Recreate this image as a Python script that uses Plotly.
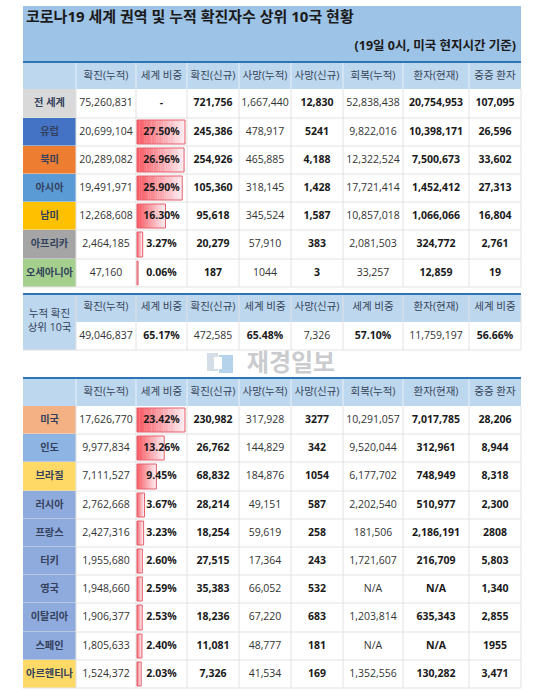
# Corona19 regional / top 10 status table drawn on a pixel-sized cartesian axis
import plotly.graph_objects as go

W, H = 548, 698

# --- data ---
TITLE = "코로나19 세계 권역 및 누적 확진자수 상위 10국 현황"
SUBTITLE = "(19일 0시, 미국 현지시간 기준)"
headers = ["확진(누적)", "세계 비중", "확진(신규)", "사망(누적)", "사망(신규)", "회복(누적)", "환자(현재)", "중증 환자"]

regions = ["전 세계", "유럽", "북미", "아시아", "남미", "아프리카", "오세아니아"]
reg_cases = ["75,260,831", "20,699,104", "20,289,082", "19,491,971", "12,268,608", "2,464,185", "47,160"]
reg_share = [None, 27.50, 26.96, 25.90, 16.30, 3.27, 0.06]
reg_new = ["721,756", "245,386", "254,926", "105,360", "95,618", "20,279", "187"]
reg_deaths = ["1,667,440", "478,917", "465,885", "318,145", "345,524", "57,910", "1044"]
reg_new_deaths = ["12,830", "5241", "4,188", "1,428", "1,587", "383", "3"]
reg_recovered = ["52,838,438", "9,822,016", "12,322,524", "17,721,414", "10,857,018", "2,081,503", "33,257"]
reg_active = ["20,754,953", "10,398,171", "7,500,673", "1,452,412", "1,066,066", "324,772", "12,859"]
reg_critical = ["107,095", "26,596", "33,602", "27,313", "16,804", "2,761", "19"]

top_label = ["누적 확진", "상위 10국"]
top_headers = ["확진(누적)", "세계 비중", "확진(신규)", "세계 비중", "사망(신규)", "세계 비중", "환자(현재)", "세계 비중"]
top_values = ["49,046,837", "65.17%", "472,585", "65.48%", "7,326", "57.10%", "11,759,197", "56.66%"]

countries = ["미국", "인도", "브라질", "러시아", "프랑스", "터키", "영국", "이탈리아", "스페인", "아르헨티나"]
cty_cases = ["17,626,770", "9,977,834", "7,111,527", "2,762,668", "2,427,316", "1,955,680", "1,948,660", "1,906,377", "1,805,633", "1,524,372"]
cty_share = [23.42, 13.26, 9.45, 3.67, 3.23, 2.60, 2.59, 2.53, 2.40, 2.03]
cty_new = ["230,982", "26,762", "68,832", "28,214", "18,254", "27,515", "35,383", "18,236", "11,081", "7,326"]
cty_deaths = ["317,928", "144,829", "184,876", "49,151", "59,619", "17,364", "66,052", "67,220", "48,777", "41,534"]
cty_new_deaths = ["3277", "342", "1054", "587", "258", "243", "532", "683", "181", "169"]
cty_recovered = ["10,291,057", "9,520,044", "6,177,702", "2,202,540", "181,506", "1,721,607", "N/A", "1,203,814", "N/A", "1,352,556"]
cty_active = ["7,017,785", "312,961", "748,949", "510,977", "2,186,191", "216,709", "N/A", "635,343", "N/A", "130,282"]
cty_critical = ["28,206", "8,944", "8,318", "2,300", "2808", "5,803", "1,340", "2,855", "1955", "3,471"]

WATERMARK = "재경일보"

# --- layout of the sheet (pixels) ---
col_edges = [23, 76, 136, 187, 239, 291, 343, 403, 469, 521]
reg_rows = [63, 89, 118, 146, 174, 202, 230, 259, 287]
top_rows = [295, 322, 350]
cty_rows = [379, 406, 434, 462, 491, 519, 547, 575, 603, 632, 660, 688]

reg_colors = ["#d9d9d9", "#4472c4", "#ed7d31", "#5b9bd5", "#ffc000", "#a5a5a5", "#a4cf8c"]
cty_colors = ["#f4b183", "#8db4e2", "#ffd966", "#8faadc", "#8faadc", "#8faadc", "#8faadc", "#8faadc", "#8faadc", "#ffd966"]

FONT = "Open Sans, Noto Sans CJK KR, sans-serif"
KFONT = "Noto Sans CJK KR, sans-serif"
TITLE_BG = "#9dc3e6"
HEAD_BG = "#bdd7ee"
RULE = "#2e75b6"
GRID = "#e2e2e2"
DARK = "#1a1a1a"
HEAD_TXT = "#36455a"

shapes = []


def rect(x0, y0, x1, y1, fill):
    shapes.append(dict(type="rect", x0=x0, y0=y0, x1=x1, y1=y1, fillcolor=fill, line_width=0, layer="below"))


def hline(y, x0=col_edges[0], x1=col_edges[-1], color=GRID, width=1):
    shapes.append(dict(type="line", x0=x0, x1=x1, y0=y, y1=y, line=dict(color=color, width=width), layer="below"))


def vline(x, y0, y1, color=GRID, width=1):
    shapes.append(dict(type="line", x0=x, x1=x, y0=y0, y1=y1, line=dict(color=color, width=width), layer="below"))


text_x, text_y, text_s, text_size, text_color = [], [], [], [], []


def put(x, y, s, size=10.5, color=DARK, bold=False):
    text_x.append(x)
    text_y.append(y)
    text_s.append("<b>%s</b>" % s if bold else s)
    text_size.append(size)
    text_color.append(color)


def mid(edges, i):
    return (edges[i] + edges[i + 1]) / 2


def draw_block(rows, labels, colors, columns, heads):
    # header band
    rect(col_edges[0], rows[0], col_edges[-1], rows[1], HEAD_BG)
    hline(rows[0] - 1, color=RULE, width=2)
    for c, h in enumerate(heads):
        put(mid(col_edges, c + 1), mid(rows, 0), h, color=HEAD_TXT)
    for x in col_edges[1:-1]:
        vline(x, rows[0], rows[1], color="#e8f0f8")
    # body
    for r, lab in enumerate(labels):
        rect(col_edges[0], rows[r + 1], col_edges[1], rows[r + 2], colors[r])
        hline(rows[r + 2])
        put(mid(col_edges, 0), mid(rows, r + 1), lab, color="#33415c", bold=True, size=10.2)
        for c, (vals, bold) in enumerate(columns):
            v = vals[r]
            if isinstance(v, float):
                v = "%.2f%%" % v
            elif v is None:
                v = "-"
            put(mid(col_edges, c + 1), mid(rows, r + 1), v, bold=bold, color=DARK if bold else "#333333")
    for x in col_edges[1:]:
        vline(x, rows[1], rows[-1])


# title band
rect(23, 6, 521, 61, TITLE_BG)
hline(62, color=RULE, width=2)
put(26, 18.5, TITLE, size=15, bold=True)

reg_columns = [(reg_cases, False), (reg_share, True), (reg_new, True), (reg_deaths, False),
               (reg_new_deaths, True), (reg_recovered, False), (reg_active, True), (reg_critical, True)]
cty_columns = [(cty_cases, False), (cty_share, True), (cty_new, True), (cty_deaths, False),
               (cty_new_deaths, True), (cty_recovered, False), (cty_active, True), (cty_critical, True)]

draw_block(reg_rows, regions, reg_colors, reg_columns, headers)
draw_block(cty_rows, countries, cty_colors, cty_columns, headers)

# top 10 summary block
rect(col_edges[0], top_rows[0], col_edges[-1], top_rows[1], HEAD_BG)
rect(col_edges[0], top_rows[0], col_edges[1], top_rows[2], HEAD_BG)
hline(top_rows[0] - 1, color=RULE, width=2)
hline(top_rows[2])
for c, h in enumerate(top_headers):
    put(mid(col_edges, c + 1), mid(top_rows, 0) - 1, h, color=HEAD_TXT)
    put(mid(col_edges, c + 1), mid(top_rows, 1), top_values[c], bold=(c % 2 == 1), color=DARK if c % 2 else "#333333")
for x in col_edges[1:]:
    vline(x, top_rows[0], top_rows[2])
put(mid(col_edges, 0), 314, top_label[0], color="#33415c")
put(mid(col_edges, 0), 328, top_label[1], color="#33415c")


# data bars, a run of thin slices so that they fade out to the right
def bar_traces(shares, rows):
    left = col_edges[2] + 1
    cell_w = col_edges[3] - col_edges[2] - 3
    top = max(s for s in shares if s is not None)
    y, base, width, colors, thick = [], [], [], [], []
    oy, obase, owidth, othick = [], [], [], []
    n = 20
    for r, s in enumerate(shares):
        if s is None:
            continue
        total = max(cell_w * s / top, 1)
        h = rows[r + 2] - rows[r + 1] - 4
        cy = mid(rows, r + 1)
        for k in range(n):
            t = k / (n - 1)
            y.append(cy)
            base.append(left + total * k / n)
            width.append(total / n + 0.2)
            thick.append(h)
            colors.append("rgb(%d,%d,%d)" % (248 + 5 * t, 90 + 145 * t, 100 + 140 * t))
        oy.append(cy)
        obase.append(left)
        owidth.append(total)
        othick.append(h)
    fill = go.Bar(orientation="h", y=y, x=width, base=base, width=thick,
                  marker=dict(color=colors, line_width=0), hoverinfo="skip", showlegend=False)
    edge = go.Bar(orientation="h", y=oy, x=owidth, base=obase, width=othick,
                  marker=dict(color="rgba(0,0,0,0)", line=dict(color="#e4606c", width=1)),
                  hoverinfo="skip", showlegend=False)
    return [fill, edge]


# watermark logo
rect(207, 353, 218, 371, "#d5dde6")
rect(219, 355, 233, 373, "#b5d3ea")
rect(214, 357, 222, 369, "#ffffff")

fig = go.Figure()
for tr in bar_traces(reg_share, reg_rows) + bar_traces(cty_share, cty_rows):
    fig.add_trace(tr)

fig.add_trace(go.Scatter(x=[291], y=[365], mode="text", text=["<b>%s</b>" % WATERMARK],
                         textfont=dict(family=KFONT, size=24, color="#c9cbce"),
                         hoverinfo="skip", showlegend=False))

title_idx = text_s.index("<b>%s</b>" % TITLE)
fig.add_trace(go.Scatter(x=text_x, y=text_y, mode="text", text=text_s,
                         textfont=dict(family=FONT, size=text_size, color=text_color),
                         textposition=["middle right" if i == title_idx else "middle center" for i in range(len(text_s))],
                         hoverinfo="skip", showlegend=False))
fig.add_trace(go.Scatter(x=[516], y=[47], mode="text", text=["<b>%s</b>" % SUBTITLE],
                         textposition="middle left",
                         textfont=dict(family=FONT, size=12.5, color=DARK),
                         hoverinfo="skip", showlegend=False))

fig.update_layout(
    width=W, height=H, margin=dict(l=0, r=0, t=0, b=0),
    paper_bgcolor="white", plot_bgcolor="white",
    barmode="overlay", shapes=shapes, showlegend=False,
    xaxis=dict(range=[0, W], visible=False, fixedrange=True),
    yaxis=dict(range=[H, 0], visible=False, fixedrange=True),
)

# the page's default 8px body margin would push the sheet off its grid
fig.write_html("out.html", config=dict(displayModeBar=False),
               post_script="document.body.style.margin='0';")
